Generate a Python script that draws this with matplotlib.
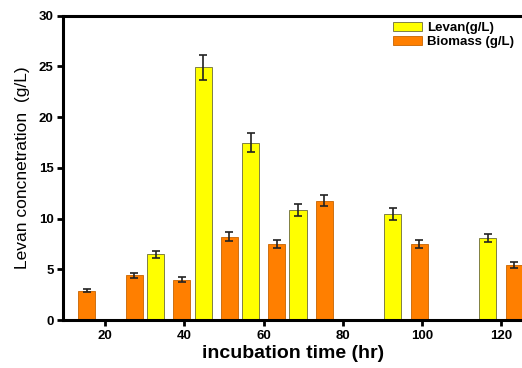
import matplotlib
matplotlib.use("Agg")
import matplotlib.pyplot as plt
import numpy as np

plt.rcParams['font.family'] = ['Liberation Sans', 'DejaVu Sans']

times = [12, 24, 36, 48, 60, 72, 96, 120]
levan = [np.nan, np.nan, 6.5, 24.9, 17.5, 10.85, 10.45, 8.1]
levan_err = [np.nan, np.nan, 0.35, 1.2, 0.9, 0.55, 0.55, 0.4]
biomass = [2.9, 4.4, 3.95, 8.2, 7.5, 11.75, 7.5, 5.45]
biomass_err = [0.15, 0.25, 0.25, 0.45, 0.4, 0.55, 0.4, 0.3]

fig = plt.figure(figsize=(5.22, 3.68), dpi=100)
ax = fig.add_axes([0.1213, 0.1304, 1.0 - 0.1213, 0.8269])

t = np.array(times, dtype=float)
off = 3.3
w = 4.3
ax.bar(t - off, levan, width=w, color='#FFFF00', edgecolor='#6b6b3a', linewidth=0.6,
       yerr=levan_err, error_kw=dict(ecolor='#222222', elinewidth=1.2, capsize=3, capthick=1.2),
       label='Levan(g/L)', zorder=2)
ax.bar(t + off, biomass, width=w, color='#FF7F00', edgecolor='#c86400', linewidth=0.6,
       yerr=biomass_err, error_kw=dict(ecolor='#222222', elinewidth=1.2, capsize=3, capthick=1.2),
       label='Biomass (g/L)', zorder=2)

ax.set_xlim(9.4, 125.3)
ax.set_ylim(0, 30)
ax.set_xticks([20, 40, 60, 80, 100, 120])
ax.set_yticks([0, 5, 10, 15, 20, 25, 30])
for s in ['left', 'bottom', 'top']:
    ax.spines[s].set_linewidth(2.2)
ax.spines['right'].set_visible(False)
ax.tick_params(axis='both', direction='out', width=2, length=4, labelsize=9.5, pad=3)
for lab in ax.get_xticklabels() + ax.get_yticklabels():
    lab.set_fontweight('bold')

ax.set_xlabel('incubation time (hr)', fontsize=14, fontweight='bold', labelpad=2)
ax.set_ylabel('Levan concnetration  (g/L)', fontsize=12.5, fontweight='medium', labelpad=6)

leg = ax.legend(loc='upper left', bbox_to_anchor=(0.719, 0.98), frameon=False,
                prop=dict(size=9.5, weight='bold'), handlelength=2.2, handleheight=0.75,
                labelspacing=0.12, handletextpad=0.4, borderaxespad=0.0, borderpad=0.0)

fig.savefig('out.png', dpi=100)
